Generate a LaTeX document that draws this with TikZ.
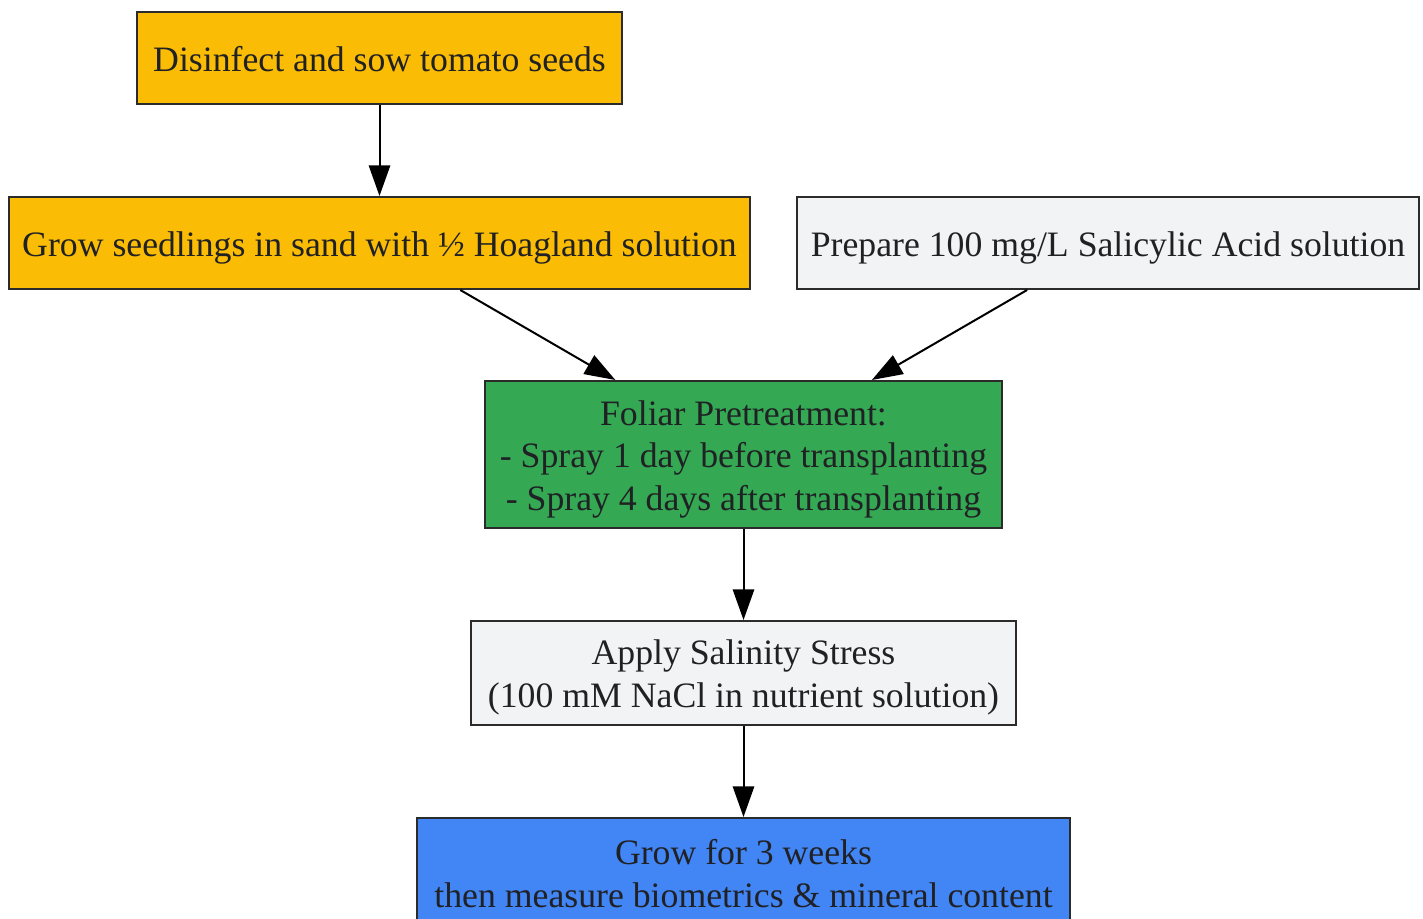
\documentclass[tikz,border=0pt]{standalone}
\usepackage{fontspec}
\setmainfont{Liberation Serif}
\usetikzlibrary{arrows.meta}
\definecolor{cyellow}{HTML}{FBBC05}
\definecolor{cgreen}{HTML}{34A853}
\definecolor{cblue}{HTML}{4285F4}
\definecolor{cgray}{HTML}{F1F3F4}
\definecolor{ctext}{HTML}{202124}
\definecolor{cborder}{HTML}{2B2B2B}
\newcommand\mystrut{\rule[-5.8pt]{0pt}{31.2pt}}
\begin{document}
\begin{tikzpicture}[x=0.75pt,y=-0.75pt,
  stepbox/.style={draw=cborder,line width=1.5pt,inner sep=0pt,align=center,
    text=ctext,font=\fontsize{26.8pt}{31.9pt}\selectfont,anchor=center},
  conn/.style={line width=1.5pt,-{Triangle[length=23pt,width=16pt]}}]
\useasboundingbox (0,0) rectangle (1423,919);
\node[stepbox,fill=cyellow,minimum width=485*0.75pt,minimum height=92*0.75pt] (a) at (379.5,58) {\mystrut Disinfect and sow tomato seeds};
\node[stepbox,fill=cyellow,minimum width=741*0.75pt,minimum height=92*0.75pt] (b) at (379.5,243) {\mystrut Grow seedlings in sand with ½ Hoagland solution};
\node[stepbox,fill=cgray,minimum width=622*0.75pt,minimum height=92*0.75pt] (c) at (1108,243) {\mystrut Prepare 100 mg/L Salicylic Acid solution};
\node[stepbox,fill=cgreen,minimum width=517*0.75pt,minimum height=147*0.75pt] (d) at (743.5,454.5) {\mystrut Foliar Pretreatment:\\\mystrut - Spray 1 day before transplanting\\\mystrut - Spray 4 days after transplanting};
\node[stepbox,fill=cgray,minimum width=545*0.75pt,minimum height=104*0.75pt] (e) at (743.5,673) {\mystrut Apply Salinity Stress\\\mystrut (100 mM NaCl in nutrient solution)};
\node[stepbox,fill=cblue,minimum width=653*0.75pt,minimum height=110*0.75pt] (f) at (743.5,873) {\mystrut Grow for 3 weeks\\\mystrut then measure biometrics \& mineral content};
\draw[conn] (a) -- (b);
\draw[conn] (b) -- (d);
\draw[conn] (c) -- (d);
\draw[conn] (d) -- (e);
\draw[conn] (e) -- (f);
\end{tikzpicture}
\end{document}
